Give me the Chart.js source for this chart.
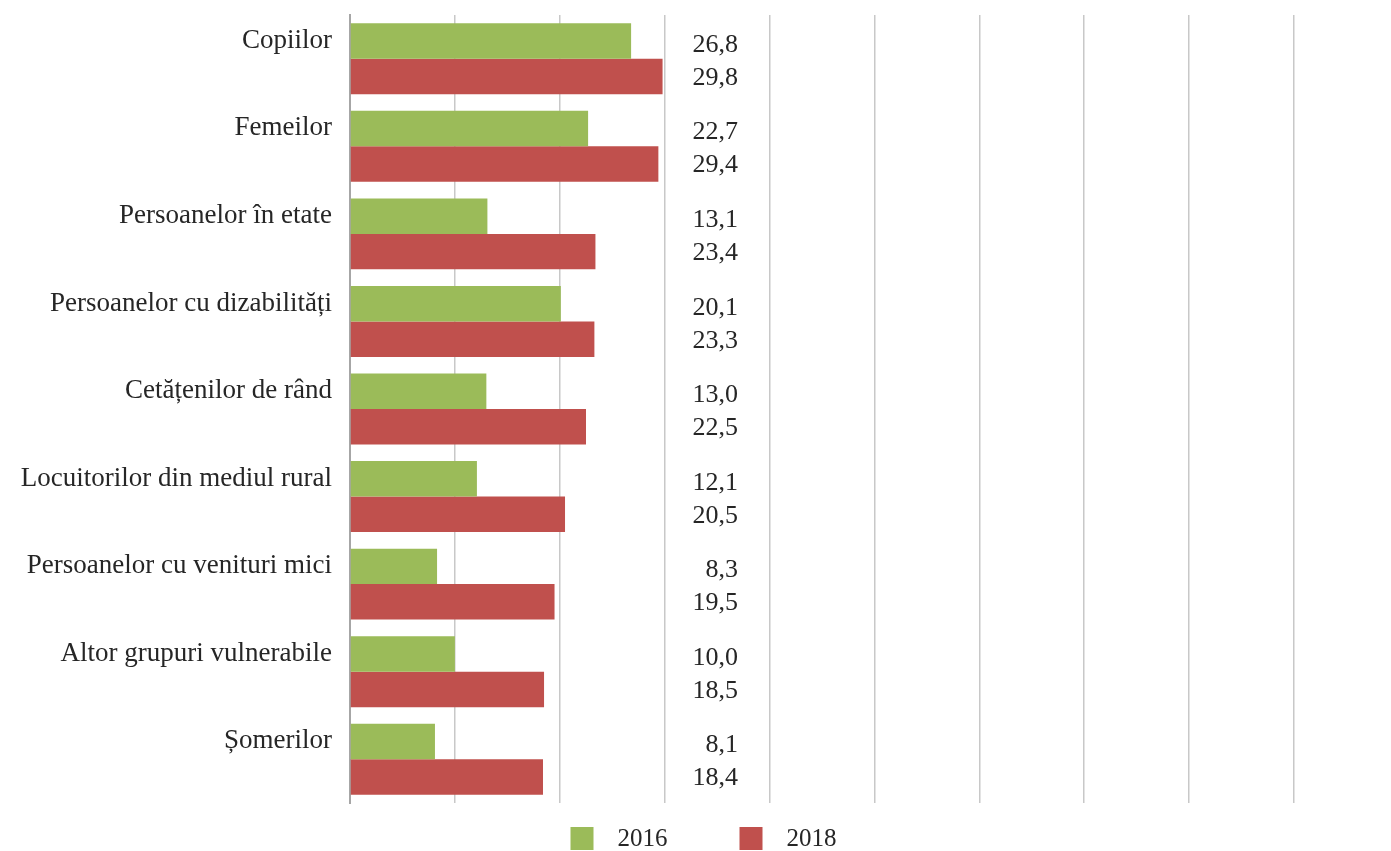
<!DOCTYPE html>
<html>
<head>
<meta charset="utf-8">
<script src="https://cdn.jsdelivr.net/npm/chart.js@4"></script>
<style>
	html, body { margin: 0; padding: 0; background: #fff; }
	#wrap { width: 1391px; height: 851px; }
</style>
</head>
<body>
<div id="wrap"><canvas id="chart"></canvas></div>
<script>
var categories = ['Copiilor', 'Femeilor', 'Persoanelor în etate', 'Persoanelor cu dizabilități',
	'Cetățenilor de rând', 'Locuitorilor din mediul rural', 'Persoanelor cu venituri mici',
	'Altor grupuri vulnerabile', 'Șomerilor']
var values2016 = [26.8, 22.7, 13.1, 20.1, 13.0, 12.1, 8.3, 10.0, 8.1]
var values2018 = [29.8, 29.4, 23.4, 23.3, 22.5, 20.5, 19.5, 18.5, 18.4]
var seriesNames = ['2016', '2018']
var seriesColors = ['#9bbb59', '#c0504d']

Chart.defaults.font.family = "'Liberation Serif', 'DejaVu Serif', serif"
Chart.defaults.color = '#262626'

function fmt(v) {
	return v.toFixed(1).replace('.', ',')
}

// value labels in one column to the right of the bars
var valueLabels = {
	id: 'valueLabels',
	afterDatasetsDraw: function (chart) {
		var ctx = chart.ctx
		var x = chart.scales.x.getPixelForValue(37)
		ctx.save()
		ctx.font = "26px 'Liberation Serif'"
		ctx.fillStyle = '#262626'
		ctx.textAlign = 'right'
		ctx.textBaseline = 'middle'
		chart.data.datasets.forEach(function (ds, i) {
			var meta = chart.getDatasetMeta(i)
			meta.data.forEach(function (bar, j) {
				ctx.fillText(fmt(ds.data[j]), x, bar.y + (i === 0 ? 4 : 1.5))
			})
		})
		ctx.restore()
	}
}

// legend drawn under the plot
var bottomLegend = {
	id: 'bottomLegend',
	afterDraw: function (chart) {
		var ctx = chart.ctx
		var box = 23, gap = 24, spacing = 72
		ctx.save()
		ctx.font = "25px 'Liberation Serif'"
		ctx.textBaseline = 'middle'
		var total = 0
		chart.data.datasets.forEach(function (ds, i) {
			total += box + gap + ctx.measureText(ds.label).width
			if (i > 0) total += spacing
		})
		var x = chart.width / 2 + 8 - total / 2
		var top = chart.chartArea.bottom + 24
		chart.data.datasets.forEach(function (ds) {
			ctx.fillStyle = ds.backgroundColor
			ctx.fillRect(x, top, box, box)
			ctx.fillStyle = '#262626'
			ctx.fillText(ds.label, x + box + gap, top + box / 2 + 1)
			x += box + gap + ctx.measureText(ds.label).width + spacing
		})
		ctx.restore()
	}
}

new Chart(document.getElementById('chart'), {
	type: 'bar',
	data: {
		labels: categories,
		datasets: [{
			label: seriesNames[0],
			data: values2016,
			backgroundColor: seriesColors[0]
		}, {
			label: seriesNames[1],
			data: values2018,
			backgroundColor: seriesColors[1]
		}]
	},
	options: {
		indexAxis: 'y',
		responsive: true,
		maintainAspectRatio: false,
		animation: false,
		layout: { padding: { top: 15, right: 97, bottom: 48, left: 0 } },
		datasets: {
			bar: { categoryPercentage: 0.81, barPercentage: 1.0 }
		},
		plugins: {
			legend: { display: false },
			tooltip: { enabled: false }
		},
		scales: {
			x: {
				min: 0,
				max: 90,
				ticks: { display: false, stepSize: 10 },
				grid: { color: '#c8c8c8', lineWidth: 1.5, drawTicks: false },
				border: { display: false }
			},
			y: {
				afterFit: function (scale) {
					scale.width = 350
					scale.paddingTop = 0
					scale.paddingBottom = 0
				},
				ticks: {
					font: { size: 27 },
					color: '#262626',
					padding: 18,
					labelOffset: -18
				},
				grid: { display: false, drawTicks: false },
				border: { display: true, color: '#a6a6a6', width: 2 }
			}
		}
	},
	plugins: [valueLabels, bottomLegend]
})
</script>
</body>
</html>
